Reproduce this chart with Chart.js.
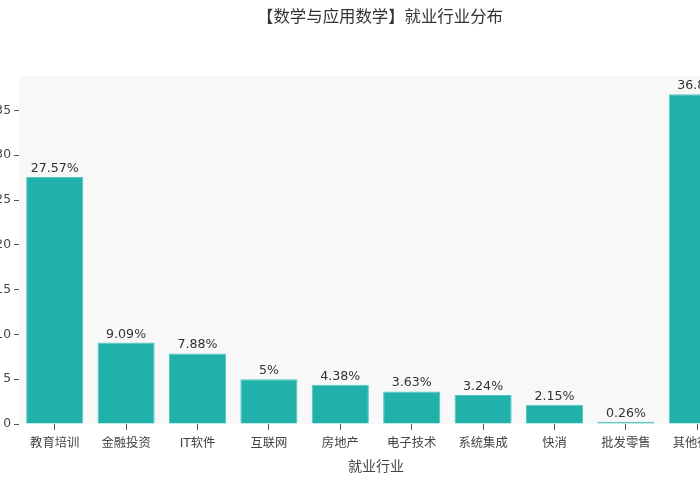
<!DOCTYPE html>
<html>
<head>
<meta charset="utf-8">
<script src="https://cdn.jsdelivr.net/npm/chart.js@4/dist/chart.umd.min.js"></script>
<style>
  html, body { margin: 0; padding: 0; background: #ffffff; overflow: hidden; width: 700px; height: 490px; }
  #wrap { position: absolute; left: -40px; top: 0; width: 840px; height: 490px; }
  canvas { display: block; }
</style>
</head>
<body>
<div id="wrap"><canvas id="c" width="840" height="490" style="width:840px;height:490px"></canvas></div>
<script>
const categories = ['教育培训', '金融投资', 'IT软件', '互联网', '房地产', '电子技术', '系统集成', '快消', '批发零售', '其他行业'];
const shares = [27.57, 9.09, 7.88, 5, 4.38, 3.63, 3.24, 2.15, 0.26, 36.8];
const barLabels = ['27.57%', '9.09%', '7.88%', '5%', '4.38%', '3.63%', '3.24%', '2.15%', '0.26%', '36.8%'];
const chartTitle = '【数学与应用数学】就业行业分布';
const xTitle = '就业行业';

const FONT = "'DejaVu Sans', 'Noto Sans CJK SC', sans-serif";

const plotBg = {
  id: 'plotBg',
  beforeDraw(chart) {
    const a = chart.chartArea, ctx = chart.ctx;
    ctx.save();
    ctx.fillStyle = '#f8f8f8';
    ctx.fillRect(a.left, a.top, a.right - a.left, a.bottom - a.top);
    ctx.restore();
  }
};

const valueLabels = {
  id: 'valueLabels',
  afterDatasetsDraw(chart) {
    const ctx = chart.ctx;
    const meta = chart.getDatasetMeta(0);
    ctx.save();
    ctx.font = '12.6px ' + FONT;
    ctx.fillStyle = '#333333';
    ctx.textAlign = 'center';
    ctx.textBaseline = 'alphabetic';
    meta.data.forEach((el, i) => {
      ctx.fillText(barLabels[i], el.x, el.y - 5);
    });
    ctx.restore();
  }
};

new Chart(document.getElementById('c'), {
  type: 'bar',
  data: {
    labels: categories,
    datasets: [{
      data: shares,
      backgroundColor: '#20b2aa',
      borderColor: '#52c6bf',
      borderWidth: 1,
      categoryPercentage: 0.8,
      barPercentage: 1.0,
      yAxisID: 'y'
    }]
  },
  options: {
    responsive: false,
    animation: false,
    layout: { padding: 0 },
    plugins: {
      legend: { display: false },
      tooltip: { enabled: false },
      title: {
        display: true,
        text: chartTitle,
        color: '#333333',
        font: { family: FONT, size: 16.4, weight: 'normal' },
        padding: { top: 8.2, bottom: 48.1 }
      }
    },
    scales: {
      x: {
        offset: true,
        grid: { display: true, drawOnChartArea: false, offset: false, tickLength: 6, color: '#555555' },
        border: { display: false },
        ticks: { color: '#444444', font: { family: FONT, size: 12.3 }, padding: 6.5, maxRotation: 0, autoSkip: false },
        title: { display: true, text: xTitle, color: '#444444', font: { family: FONT, size: 14 }, padding: { top: 0, bottom: 14 } },
        afterFit(s) { s.height = 66; }
      },
      y: {
        position: 'left',
        min: 0,
        max: 38.85,
        grid: { display: true, drawOnChartArea: false, tickLength: 5, color: '#555555' },
        border: { display: false },
        ticks: { stepSize: 5, includeBounds: false, color: '#444444', font: { family: FONT, size: 12.3 }, padding: 3 },
        afterFit(s) { s.width = 59; }
      },
      yR: {
        position: 'right',
        display: true,
        grid: { display: false },
        border: { display: false },
        ticks: { display: false },
        afterFit(s) { s.width = 67; }
      }
    }
  },
  plugins: [plotBg, valueLabels]
});
</script>
</body>
</html>
